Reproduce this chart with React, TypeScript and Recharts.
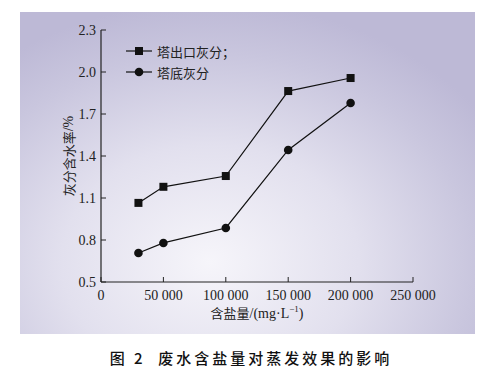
import React from "react";
import { LineChart, Line, XAxis, YAxis } from "recharts";

const saltContent = [30000, 50000, 100000, 150000, 200000];
const outletAsh = [1.065, 1.18, 1.257, 1.864, 1.957];
const bottomAsh = [0.707, 0.779, 0.886, 1.443, 1.779];
const xTicks = [0, 50000, 100000, 150000, 200000, 250000];
const yTicks = [0.5, 0.8, 1.1, 1.4, 1.7, 2.0, 2.3];
const seriesNames = ["塔出口灰分；", "塔底灰分"];

const data = saltContent.map((x, i) => ({ x, outlet: outletAsh[i], bottom: bottomAsh[i] }));

const serif = "'Liberation Serif', 'Times New Roman', Times, serif";
const cjk = "'Noto Sans CJK SC', sans-serif";

const fmtX = (v: number) => {
  if (v === 0) return "0";
  const s = String(v);
  return s.slice(0, s.length - 3) + " " + s.slice(s.length - 3);
};
const fmtY = (v: number) => v.toFixed(1);

const Square = (props: any) => {
  const { cx, cy } = props;
  if (cx == null || cy == null) return null;
  return <rect x={cx - 4} y={cy - 4} width={8} height={8} fill="#111" />;
};
const Dot = (props: any) => {
  const { cx, cy } = props;
  if (cx == null || cy == null) return null;
  return <circle cx={cx} cy={cy} r={4.3} fill="#111" />;
};

const XTick = (props: any) => {
  const { x, payload } = props;
  return (
    <text x={x} y={300} textAnchor="middle" style={{ fontFamily: serif, fontSize: 14 }} fill="#222">
      {fmtX(payload.value)}
    </text>
  );
};
const YTick = (props: any) => {
  const { y, payload } = props;
  return (
    <text x={96} y={y} textAnchor="end" dominantBaseline="central" style={{ fontFamily: serif, fontSize: 14 }} fill="#222">
      {fmtY(payload.value)}
    </text>
  );
};

const XLabel = (props: any) => {
  const vb = props.viewBox || {};
  const cx = vb.x + vb.width / 2;
  return (
    <text x={cx} y={318} textAnchor="middle" fill="#222" style={{ fontSize: 13, fontFamily: cjk }}>
      含盐量
      <tspan style={{ fontFamily: serif, fontSize: 14 }}>/(mg·L</tspan>
      <tspan style={{ fontFamily: serif, fontSize: 9 }} dy={-6}>−1</tspan>
      <tspan style={{ fontFamily: serif, fontSize: 14 }} dy={6}>)</tspan>
    </text>
  );
};

const YLabel = (props: any) => {
  const vb = props.viewBox || {};
  const cy = vb.y + vb.height / 2;
  return (
    <text
      x={68}
      y={cy}
      textAnchor="middle"
      dominantBaseline="central"
      fill="#222"
      style={{ fontSize: 13, fontFamily: cjk }}
      transform={`rotate(-90 68 ${cy})`}
    >
      灰分含水率
      <tspan style={{ fontFamily: serif, fontSize: 14 }}>/%</tspan>
    </text>
  );
};

export default function App() {
  return (
    <div style={{ position: "absolute", left: 0, top: 0, width: 502, height: 374, background: "#fff", overflow: "hidden" }}>
      <div
        style={{
          position: "absolute",
          left: 20,
          top: 12,
          width: 455,
          height: 322,
          background: "radial-gradient(ellipse 330px 260px at 190px 250px, #f6f5fa 0%, #e2e0ee 45%, #c9c6de 80%, #bdb9d6 100%)",
        }}
      />
      <div style={{ position: "absolute", left: 0, top: 0 }}>
        <LineChart width={502} height={335} data={data} margin={{ top: 30, right: 89, left: 0, bottom: 0 }}>
          <XAxis
            dataKey="x"
            type="number"
            domain={[0, 250000]}
            ticks={xTicks}
            tickFormatter={fmtX}
            height={53}
            tickSize={-5}
            tickMargin={12}
            stroke="#222"
            tick={<XTick />}
            axisLine={{ stroke: "#222", strokeWidth: 1.2 }}
            tickLine={{ stroke: "#222" }}
            interval={0}
            label={<XLabel />}
          />
          <YAxis
            type="number"
            domain={[0.5, 2.3]}
            ticks={yTicks}
            tickFormatter={fmtY}
            width={101}
            tickSize={-5}
            tickMargin={10}
            stroke="#222"
            tick={<YTick />}
            axisLine={{ stroke: "#222", strokeWidth: 1.2 }}
            tickLine={{ stroke: "#222" }}
            interval={0}
            label={<YLabel />}
          />
          <Line dataKey="outlet" stroke="#111" strokeWidth={1.2} dot={<Square />} isAnimationActive={false} />
          <Line dataKey="bottom" stroke="#111" strokeWidth={1.2} dot={<Dot />} isAnimationActive={false} />
        </LineChart>
      </div>
      <svg style={{ position: "absolute", left: 0, top: 0 }} width={502} height={100}>
        <line x1={126} x2={152} y1={51} y2={51} stroke="#111" strokeWidth={1.2} />
        <rect x={135} y={47} width={8} height={8} fill="#111" />
        <text x={157} y={51} dominantBaseline="central" fill="#222" style={{ fontSize: 13, fontFamily: cjk }}>{seriesNames[0]}</text>
        <line x1={126} x2={152} y1={72} y2={72} stroke="#111" strokeWidth={1.2} />
        <circle cx={139} cy={72} r={4.3} fill="#111" />
        <text x={157} y={72} dominantBaseline="central" fill="#222" style={{ fontSize: 13, fontFamily: cjk }}>{seriesNames[1]}</text>
      </svg>
      <div
        style={{
          position: "absolute",
          left: 0,
          width: 502,
          top: 347,
          textAlign: "center",
          fontFamily: cjk,
          fontSize: 15,
          letterSpacing: 3,
          color: "#111",
          fontWeight: 500,
          whiteSpace: "pre",
        }}
      >
        图 2  废水含盐量对蒸发效果的影响
      </div>
    </div>
  );
}
